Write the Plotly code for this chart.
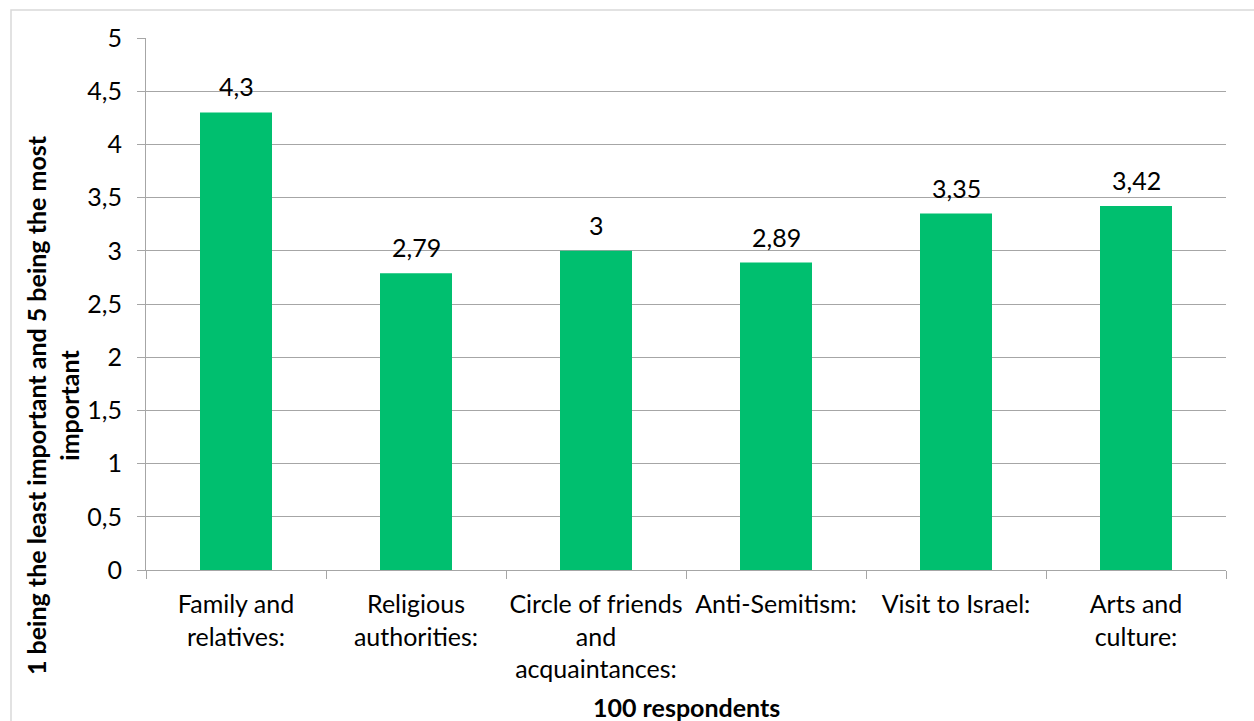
import plotly.graph_objects as go

# Survey results: mean importance score per factor (scale 1-5)
categories = [
    "Family and<br>relatives:",
    "Religious<br>authorities:",
    "Circle of friends<br>and<br>acquaintances:",
    "Anti-Semitism:",
    "Visit to Israel:",
    "Arts and<br>culture:",
]
scores = [4.3, 2.79, 3.0, 2.89, 3.35, 3.42]
y_ticks = [0, 0.5, 1, 1.5, 2, 2.5, 3, 3.5, 4, 4.5, 5]
y_tick_labels = ["0", "0,5", "1", "1,5", "2", "2,5", "3", "3,5", "4", "4,5", "5"]

FONT = "Lato"
BAR = "#00BF6F"
GRID = "#A6A6A6"
TXT = "#000000"
FS = 25

W, H = 1254, 721
ML, MR, MT, MB = 146, 28, 38, 151
PW, PH = W - ML - MR, H - MT - MB


def px_x(px):
    return (px - ML) / PW


def px_y(py):
    return (H - MB - py) / PH


def fmt(v):
    return f"{v:g}".replace(".", ",")


fig = go.Figure(
    go.Bar(
        x=categories,
        y=scores,
        marker=dict(color=BAR, line=dict(width=0)),
        width=0.4,
        hoverinfo="skip",
    )
)

# Value labels above each bar
for c, v in zip(categories, scores):
    fig.add_annotation(
        x=c, y=v, text=fmt(v), showarrow=False, yanchor="bottom",
        yshift=9, font=dict(family=FONT, size=FS, color=TXT),
    )

# Axis titles
fig.add_annotation(
    x=px_x(52), y=px_y(405), xref="paper", yref="paper",
    text="<b>1 being the least important and 5 being the most<br>important</b>",
    textangle=-90, showarrow=False, xanchor="center", yanchor="middle",
    font=dict(family=FONT, size=25, color=TXT),
)
fig.add_annotation(
    x=0.5, y=px_y(707), xref="paper", yref="paper",
    text="<b>100 respondents</b>", showarrow=False,
    xanchor="center", yanchor="middle",
    font=dict(family=FONT, size=25, color=TXT),
)

# Outer chart frame
fig.add_shape(
    type="rect", xref="paper", yref="paper",
    x0=px_x(11), x1=px_x(1300), y0=px_y(780), y1=px_y(10),
    line=dict(color="#D9D9D9", width=1.5), fillcolor="rgba(0,0,0,0)",
    layer="below",
)

fig.update_layout(
    width=W, height=H,
    margin=dict(l=ML, r=MR, t=MT, b=MB, autoexpand=False),
    paper_bgcolor="white", plot_bgcolor="white",
    showlegend=False,
    font=dict(family=FONT, size=FS, color=TXT),
    xaxis=dict(
        type="category",
        range=[-0.5, len(categories) - 0.5],
        ticks="outside", ticklen=8, tickcolor=GRID, tickwidth=1,
        tickson="boundaries",
        tickangle=0, automargin=False,
        showline=True, linecolor=GRID, linewidth=1,
        showgrid=False, zeroline=False,
        tickfont=dict(family=FONT, size=FS, color=TXT),
        ticklabelstandoff=12,
        fixedrange=True,
    ),
    yaxis=dict(
        range=[0, 5],
        tickmode="array", tickvals=y_ticks, ticktext=y_tick_labels,
        ticks="outside", ticklen=8, tickcolor=GRID, tickwidth=1,
        automargin=False,
        showline=True, linecolor=GRID, linewidth=1,
        showgrid=True, gridcolor=GRID, gridwidth=1,
        zeroline=False,
        tickfont=dict(family=FONT, size=FS, color=TXT),
        ticklabelstandoff=10,
        fixedrange=True,
    ),
)

fig.write_html("out.html", config={"displayModeBar": False})
